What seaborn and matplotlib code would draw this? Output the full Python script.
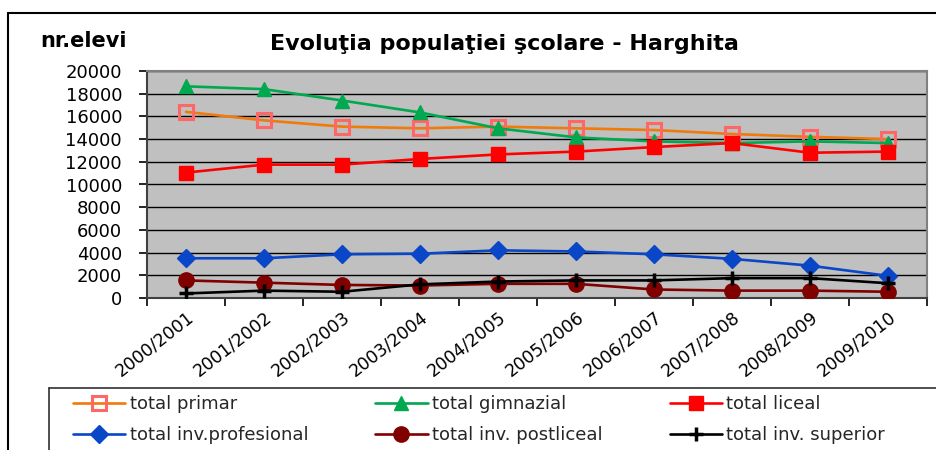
import matplotlib
matplotlib.use("Agg")
import matplotlib.pyplot as plt
from matplotlib.lines import Line2D
from matplotlib.ticker import FixedLocator, NullFormatter
import seaborn as sns
import pandas as pd

years = ["2000/2001", "2001/2002", "2002/2003", "2003/2004", "2004/2005",
         "2005/2006", "2006/2007", "2007/2008", "2008/2009", "2009/2010"]

primar = [16400, 15650, 15100, 14950, 15100, 14950, 14800, 14450, 14200, 14000]
gimnazial = [18650, 18400, 17400, 16350, 14950, 14150, 13800, 13650, 13800, 13650]
liceal = [11050, 11750, 11750, 12250, 12650, 12900, 13300, 13650, 12800, 12900]
profesional = [3500, 3500, 3850, 3900, 4200, 4100, 3850, 3450, 2850, 1950]
postliceal = [1550, 1350, 1150, 1100, 1250, 1250, 750, 650, 650, 550]
superior = [400, 650, 550, 1200, 1450, 1550, 1550, 1750, 1750, 1300]

series_names = ["total primar", "total gimnazial", "total liceal",
                "total inv.profesional", "total inv. postliceal", "total inv. superior"]
series_values = [primar, gimnazial, liceal, profesional, postliceal, superior]

title = "Evoluţia populaţiei şcolare - Harghita"
ylabel = "nr.elevi"

sns.set_theme(style="white")
plt.rcParams["font.family"] = ["DejaVu Sans"]
plt.rcParams["ytick.left"] = True
plt.rcParams["xtick.bottom"] = True
plt.rcParams["ytick.major.size"] = 6
plt.rcParams["ytick.major.width"] = 1.2
plt.rcParams["ytick.major.pad"] = 12
plt.rcParams["ytick.color"] = "black"
plt.rcParams["xtick.color"] = "black"

W, H = 936, 450
fig = plt.figure(figsize=(W / 100, H / 100), dpi=100)
fig.patch.set_facecolor("white")

ax = fig.add_axes([147 / W, 1 - 298 / H, (927 - 147) / W, (298 - 71) / H])
ax.set_facecolor("#C0C0C0")

styles = [
    dict(color="#F07A0A", marker="s", markerfacecolor="none", markeredgecolor="#FF6666",
         markersize=9.5, markeredgewidth=2.2),
    dict(color="#00A84F", marker="^", markerfacecolor="#00A84F", markeredgecolor="#00A84F",
         markersize=10, markeredgewidth=1),
    dict(color="#FF0000", marker="s", markerfacecolor="#FF0000", markeredgecolor="#FF0000",
         markersize=10, markeredgewidth=1),
    dict(color="#0A46C8", marker="D", markerfacecolor="#0A46C8", markeredgecolor="#0A46C8",
         markersize=9, markeredgewidth=1),
    dict(color="#800000", marker="o", markerfacecolor="#800000", markeredgecolor="#800000",
         markersize=11, markeredgewidth=1),
    dict(color="#000000", marker="+", markerfacecolor="#000000", markeredgecolor="#000000",
         markersize=10, markeredgewidth=2.5),
]

for name, vals, st in zip(series_names, series_values, styles):
    df = pd.DataFrame({"an": years, "elevi": vals})
    sns.lineplot(data=df, x="an", y="elevi", ax=ax, label=name, linewidth=1.9,
                 sort=False, zorder=3, **st)

ax.set_xlim(-0.5, len(years) - 0.5)
ax.set_ylim(0, 20000)
ax.set_yticks(range(0, 20001, 2000))
ax.set_yticklabels([str(v) for v in range(0, 20001, 2000)], fontsize=13)
ax.set_xlabel("")
ax.set_ylabel("")
ax.grid(axis="y", color="black", linewidth=1.0)
ax.grid(axis="x", visible=False)
ax.set_axisbelow(True)

ax.set_xticks(range(len(years)))
ax.set_xticklabels(years, fontsize=12.5, rotation=38, ha="right", va="top",
                   rotation_mode="anchor")
ax.tick_params(axis="x", which="major", length=0, pad=7)
ax.xaxis.set_minor_locator(FixedLocator([i - 0.5 for i in range(len(years) + 1)]))
ax.xaxis.set_minor_formatter(NullFormatter())
ax.tick_params(axis="x", which="minor", length=6, width=1.2, color="black", direction="out",
               bottom=True)
ax.yaxis.set_tick_params(which="major", length=6, width=1.2, color="black", direction="out",
                         left=True, pad=12)

for s in ["top", "right"]:
    ax.spines[s].set_color("#808080")
    ax.spines[s].set_linewidth(1.5)
ax.spines["left"].set_color("#404040")
ax.spines["left"].set_linewidth(1.5)
ax.spines["bottom"].set_color("#404040")
ax.spines["bottom"].set_linewidth(1.5)

leg = ax.get_legend()
handles, labels = ax.get_legend_handles_labels()
leg.remove()
order = [0, 3, 1, 4, 2, 5]
fig.legend([handles[i] for i in order], [labels[i] for i in order], ncol=3,
           loc="upper left", bbox_to_anchor=(73 / W, 1 - 395 / H), frameon=False,
           fontsize=13, handlelength=2.9, handletextpad=0.25, columnspacing=3.7,
           labelspacing=0.72, borderpad=0, borderaxespad=0)

# legend frame (top and left edges visible; the rest falls outside the image)
fig.add_artist(Line2D([49 / W, 49 / W], [0, 1 - 388 / H], transform=fig.transFigure,
                      color="#303030", linewidth=1.2))
fig.add_artist(Line2D([49 / W, 1], [1 - 388 / H, 1 - 388 / H], transform=fig.transFigure,
                      color="#303030", linewidth=1.2))
# outer chart frame
fig.add_artist(Line2D([8 / W, 8 / W], [0, 1 - 13 / H], transform=fig.transFigure,
                      color="black", linewidth=1.5))
fig.add_artist(Line2D([8 / W, 1], [1 - 13 / H, 1 - 13 / H], transform=fig.transFigure,
                      color="black", linewidth=1.5))

fig.text(504 / W, 1 - 50 / H, title, ha="center", va="baseline", fontsize=16,
         fontweight="bold", color="black")
fig.text(40 / W, 1 - 47 / H, ylabel, ha="left", va="baseline", fontsize=15,
         fontweight="bold", color="black")

fig.savefig("out.png", dpi=100, facecolor="white")
